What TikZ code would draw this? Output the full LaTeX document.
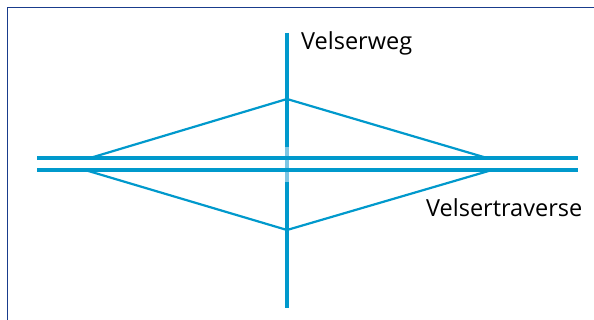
\documentclass[tikz,border=0pt]{standalone}
\usepackage{fontspec}
\setmainfont{Open Sans}
\definecolor{road}{RGB}{0,153,204}
\definecolor{roadlight}{RGB}{125,198,228}
\definecolor{frame}{RGB}{25,60,140}
\begin{document}
\begin{tikzpicture}[x=1pt,y=-1pt,
  mainroad/.style={draw=road,line width=4pt},
  ramp/.style={draw=road,line width=2.2pt},
  lbl/.style={inner sep=0pt,anchor=base west,font=\fontsize{23.5}{26}\selectfont}]
\useasboundingbox (0,0) rectangle (594,320);
\draw[frame,line width=1.8pt] (7.5,330) -- (7.5,7.5) -- (600,7.5);
% coordinates
\coordinate (vt) at (287,33);
\coordinate (vb) at (287,308);
\coordinate (gt) at (287,147);
\coordinate (gb) at (287,182);
\coordinate (hl1) at (37,158);
\coordinate (hr1) at (578,158);
\coordinate (hl2) at (37,170);
\coordinate (hr2) at (578,170);
\coordinate (apt) at (287,99);
\coordinate (apb) at (287,230);
\coordinate (jul) at (90,158);
\coordinate (jur) at (487,158);
\coordinate (jll) at (85,170);
\coordinate (jlr) at (492,170);
% ramps
\draw[ramp,line join=round] (jul) -- (apt) -- (jur);
\draw[ramp,line join=round] (jll) -- (apb) -- (jlr);
% vertical road
\draw[mainroad] (vt) -- (vb);
\draw[draw=roadlight,line width=4pt] (gt) -- (gb);
% horizontal roads
\draw[mainroad] (hl1) -- (hr1);
\draw[mainroad] (hl2) -- (hr2);
% labels
\node[lbl] (l1) at (301,49.3) {Velserweg};
\node[lbl] (l2) at (426,217) {Velsertraverse};
\end{tikzpicture}
\end{document}
